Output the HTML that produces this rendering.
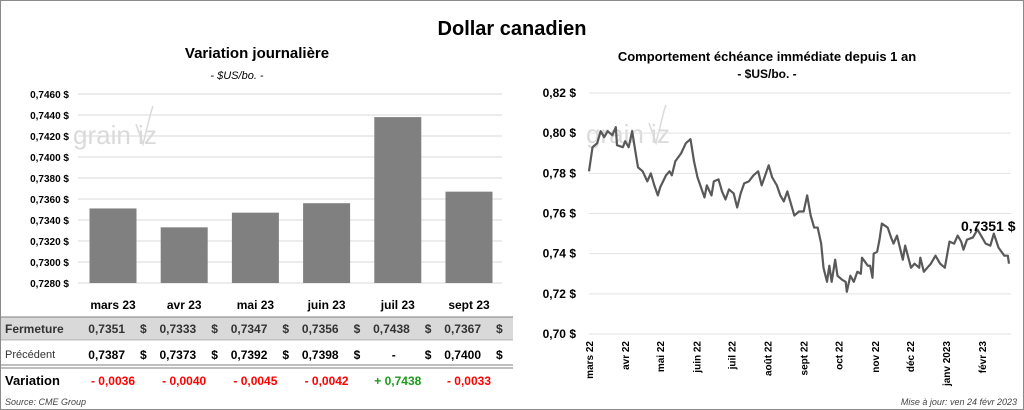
<!DOCTYPE html>
<html><head><meta charset="utf-8"><style>
body{margin:0;background:#fff;font-family:"Liberation Sans",Arial,sans-serif;}
#wrap{position:relative;width:1022px;height:408px;border:1px solid #8a8a8a;overflow:hidden;}
</style></head><body>
<div id="wrap">
<svg id="svg" width="1022" height="408" style="position:absolute;left:0;top:0"></svg>
</div>
<script>
const barCats=["mars 23","avr 23","mai 23","juin 23","juil 23","sept 23"];
const barVals=[0.7351,0.7333,0.7347,0.7356,0.7438,0.7367];
const prevVals=["0,7387","0,7373","0,7392","0,7398","-","0,7400"];
const varLabels=["- 0,0036","- 0,0040","- 0,0045","- 0,0042","+ 0,7438","- 0,0033"];
const leftTicks=[0.728,0.730,0.732,0.734,0.736,0.738,0.740,0.742,0.744,0.746];
const lineDays=[0,3,7,10,13,16,20,23,24,29,31,34,37,40,42,46,50,53,56,59,61,66,69,71,74,79,83,87,90,93,96,99,101,105,107,111,114,117,120,124,127,130,133,137,141,145,148,151,154,157,161,164,167,170,173,176,180,184,187,190,193,196,199,201,204,206,208,211,213,217,220,221,224,227,230,233,234,239,241,243,244,247,249,251,256,259,261,264,269,271,276,279,283,284,287,293,297,301,305,309,313,316,319,321,324,329,333,336,340,344,347,351,356,359,360];
const lineVals=[0.781,0.793,0.795,0.801,0.798,0.801,0.799,0.803,0.794,0.793,0.796,0.793,0.801,0.790,0.783,0.781,0.776,0.780,0.774,0.769,0.773,0.779,0.781,0.779,0.786,0.790,0.795,0.797,0.786,0.778,0.773,0.768,0.774,0.769,0.776,0.777,0.771,0.767,0.772,0.770,0.763,0.770,0.775,0.776,0.779,0.781,0.774,0.779,0.784,0.778,0.774,0.769,0.766,0.771,0.765,0.759,0.761,0.761,0.769,0.759,0.753,0.753,0.745,0.733,0.726,0.734,0.726,0.737,0.729,0.727,0.726,0.721,0.729,0.726,0.731,0.730,0.738,0.734,0.734,0.728,0.740,0.741,0.747,0.755,0.753,0.748,0.745,0.749,0.737,0.744,0.733,0.735,0.733,0.738,0.731,0.735,0.739,0.735,0.733,0.746,0.745,0.749,0.746,0.742,0.747,0.748,0.752,0.749,0.745,0.744,0.750,0.743,0.739,0.739,0.735];
const rightTicks=[0.70,0.72,0.74,0.76,0.78,0.80,0.82];
const monthLabels=["mars 22","avr 22","mai 22","juin 22","juil 22","août 22","sept 22","oct 22","nov 22","déc 22","janv 2023","févr 23"];
const monthDays=[0,31,61,92,122,153,184,214,245,275,306,337];

const svg=document.getElementById('svg');const NS="http://www.w3.org/2000/svg";
function el(tag,attrs,parent){const e=document.createElementNS(NS,tag);for(const k in attrs)e.setAttribute(k,attrs[k]);(parent||svg).appendChild(e);return e;}
function txt(s,x,y,attrs){const e=el('text',Object.assign({x:x,y:y,'font-family':'Liberation Sans, Arial, sans-serif'},attrs));e.textContent=s;return e;}
const fmt=(v,d)=>v.toFixed(d).replace('.',',')+' $';

let e=txt("Dollar canadien",511,34,{'font-size':20,'font-weight':'bold','text-anchor':'middle',fill:'#000'});

e=txt("Variation  journalière",256,57,{'font-size':15,'font-weight':'bold','text-anchor':'middle'});

e=txt("- $US/bo. -",236,78,{'font-size':11,'font-style':'italic','text-anchor':'middle'});

e=txt("Comportement échéance immédiate depuis 1 an",766,60,{'font-size':13,'font-weight':'bold','text-anchor':'middle'});

e=txt("- $US/bo. -",766,77,{'font-size':12,'font-weight':'bold','text-anchor':'middle'});


function wm(x,y,n){const g=el('g',{});
 const t=txt("grain  iz",x,y,{'font-size':26,fill:'#dadada'});g.appendChild(t);
 el('polyline',{points:`${x+63},${y-20} ${x+70},${y} ${x+78},${y-32} ${x+80},${y-38}`,fill:'none',stroke:'#dadada','stroke-width':1.5},g);}
wm(72,143,'left-watermark');wm(585,142,'right-watermark');

const ly=v=>93+(0.746-v)/0.018*189;
const bx=i=>112+i*71.2;
leftTicks.forEach(t=>{const l=el('line',{x1:77,x2:501,y1:ly(t),y2:ly(t),stroke:'#d9d9d9','stroke-width':1});
 
 const tt=txt(fmt(t,4),68,ly(t)+4,{'font-size':10,'font-weight':'bold','text-anchor':'end'});
 });
barVals.forEach((v,i)=>{const r=el('rect',{x:bx(i)-23.5,y:ly(v),width:47,height:ly(0.728)-ly(v),fill:'#808080'});
 });
const tb=el('rect',{x:0,y:316,width:512,height:23,fill:'#d9d9d9'});
[[316,1],[339,0.6],[364,1],[367,1]].forEach(([y,w])=>{const l=el('line',{x1:0,x2:512,y1:y,y2:y,stroke:'#7f7f7f','stroke-width':w});});
e=txt("Fermeture",4,332,{'font-size':12,'font-weight':'bold',fill:'#333'});
e=txt("Précédent",4,357,{'font-size':11,fill:'#333'});
e=txt("Variation",4,384,{'font-size':13,'font-weight':'bold'});
e=txt("Source: CME Group",4,404,{'font-size':9,'font-style':'italic',fill:'#444'});
barCats.forEach((c,i)=>{const x=bx(i);
 let t=txt(c,x,308,{'font-size':12,'font-weight':'bold','text-anchor':'middle'});
 t=txt(barVals[i].toFixed(4).replace('.',','),x+12,332,{'font-size':12,'font-weight':'bold','text-anchor':'end',fill:'#333'});
 t=txt("$",x+27,332,{'font-size':12,'font-weight':'bold',fill:'#333'});
 t=txt(prevVals[i],prevVals[i]==='-'?x-2:x+12,358,{'font-size':12,'font-weight':'bold','text-anchor':'end'});
 t=txt("$",x+27,358,{'font-size':12,'font-weight':'bold'});
 t=txt(varLabels[i],x,384,{'font-size':12,'font-weight':'bold','text-anchor':'middle',fill:varLabels[i][0]==='+'?'#1a9a1a':'#ff0000'});});

const ry=v=>92+(0.82-v)/0.12*241;
const rx=d=>588+d/360*420;
rightTicks.forEach(t=>{const l=el('line',{x1:588,x2:1010,y1:ry(t),y2:ry(t),stroke:'#e3e3e3','stroke-width':1});
 
 const tt=txt(fmt(t,2),575,ry(t)+4,{'font-size':12,'font-weight':'bold','text-anchor':'end'});
 });
const pl=el('polyline',{points:lineVals.map((v,i)=>rx(lineDays[i])+','+ry(v)).join(' '),fill:'none',stroke:'#595959','stroke-width':2.2,'stroke-linejoin':'round'});

e=txt("0,7351 $",960,230,{'font-size':14,'font-weight':'bold'});
monthLabels.forEach((m,i)=>{const x=rx(monthDays[i])+4;const t=txt(m,x,340,{'font-size':10,'font-weight':'bold','text-anchor':'end',transform:`rotate(-90 ${x} 340)`});
 });
e=txt("Mise à jour: ven 24 févr 2023",1016,404,{'font-size':9,'font-style':'italic','text-anchor':'end',fill:'#444'});
</script>
</body></html>
